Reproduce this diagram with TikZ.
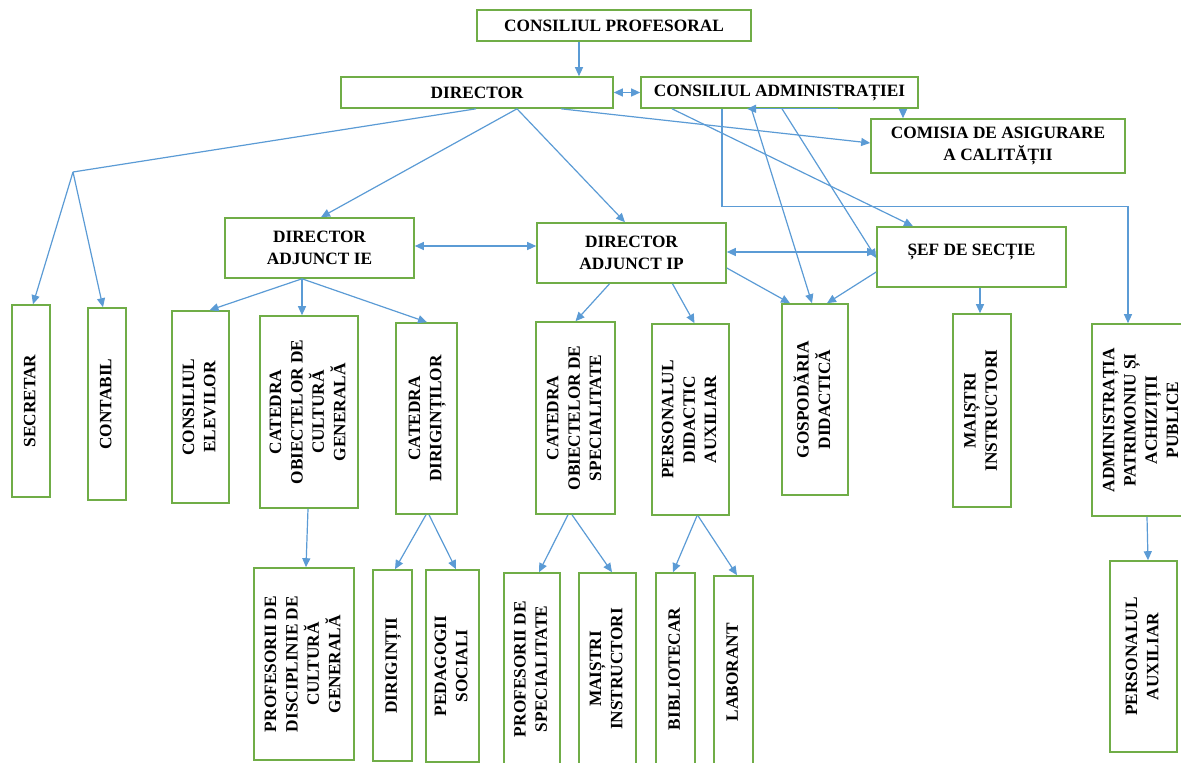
\documentclass[tikz,border=0pt]{standalone}
\usepackage{fontspec}
\setmainfont{Liberation Serif}
\usetikzlibrary{arrows.meta,calc}

\definecolor{boxgreen}{RGB}{112,173,71}
\definecolor{lineblue}{RGB}{91,155,213}
\newcommand{\vlabel}[1]{\rotatebox{90}{\begin{tabular}{@{}c@{}}#1\end{tabular}}}

\tikzset{
  box/.style={draw=boxgreen, line width=1.6pt, fill=white, align=center, inner sep=1pt,
    font=\fontsize{17.3}{21.3}\selectfont\bfseries},
  boxsize/.style 2 args={minimum width=#1, minimum height=#2},
  link/.style={draw=lineblue, line width=1.2pt},
  arr/.style={link, -{Triangle[length=9pt,width=8pt]}},
  darr/.style={link, {Triangle[length=9pt,width=8pt]}-{Triangle[length=9pt,width=8pt]}}
}

\begin{document}
\begin{tikzpicture}[x=1pt,y=-1pt]
\useasboundingbox (0,0) rectangle (1181,763);
\clip (0,0) rectangle (1181,763);

\node[box, boxsize={274}{31}] (prof) at (614,25.5) {CONSILIUL PROFESORAL};
\node[box, boxsize={272}{31}] (dir) at (477,92.5) {DIRECTOR};
\node[box, boxsize={277}{31}] (cadm) at (779.5,92.5) {CONSILIUL ADMINISTRAȚIEI};
\node[box, boxsize={254}{54}] (com) at (998,146) {COMISIA DE ASIGURARE\\A CALITĂȚII};
\node[box, boxsize={189}{60}] (dirie) at (319.5,248) {DIRECTOR\\ADJUNCT IE};
\node[box, boxsize={189}{60}] (dirip) at (631.5,253) {DIRECTOR\\ADJUNCT IP};
\node[box, boxsize={189}{60}] (sef) at (971.5,257) {ȘEF DE SECȚIE\\[-7pt] \mbox{}};

% second level
\node[box, boxsize={38}{192}] (secr) at (31,401) {\vlabel{SECRETAR}};
\node[box, boxsize={38}{192}] (cont) at (107,404) {\vlabel{CONTABIL}};
\node[box, boxsize={57}{192}] (cel) at (200.5,407) {\vlabel{CONSILIUL\\ELEVILOR}};
\node[box, boxsize={98}{192}] (cocg) at (309,412) {\vlabel{CATEDRA\\OBIECTELOR DE\\CULTURĂ\\GENERALĂ}};
\node[box, boxsize={61}{191}] (cdir) at (426.5,418.5) {\vlabel{CATEDRA\\DIRIGINȚILOR}};
\node[box, boxsize={79}{192}] (cspec) at (575.5,418) {\vlabel{CATEDRA\\OBIECTELOR DE\\SPECIALITATE}};
\node[box, boxsize={77}{191}] (pda) at (690.5,419.5) {\vlabel{PERSONALUL\\DIDACTIC\\AUXILIAR}};
\node[box, boxsize={66}{191}] (gosp) at (815,399.5) {\vlabel{GOSPODĂRIA\\DIDACTICĂ}};
\node[box, boxsize={58}{193}] (maia) at (982,410.5) {\vlabel{MAIȘTRI\\INSTRUCTORI}};
\node[box, boxsize={100}{192}] (adm) at (1142,420) {\vlabel{ADMINISTRAȚIA\\PATRIMONIU ȘI\\ACHIZIȚII\\PUBLICE}};

% third level
\node[box, boxsize={100}{192}] (pdisc) at (304,664) {\vlabel{PROFESORII DE\\DISCIPLINIE DE\\CULTURĂ\\GENERALĂ}};
\node[box, boxsize={39}{191}] (dirig) at (392.5,665.5) {\vlabel{DIRIGINȚII}};
\node[box, boxsize={53}{192}] (ped) at (452.5,666) {\vlabel{PEDAGOGII\\SOCIALI}};
\node[box, boxsize={56}{192}] (pspec) at (532,669) {\vlabel{PROFESORII DE\\SPECIALITATE}};
\node[box, boxsize={57}{192}] (maib) at (607.5,669) {\vlabel{MAIȘTRI\\INSTRUCTORI}};
\node[box, boxsize={39}{192}] (bib) at (675.5,669) {\vlabel{BIBLIOTECAR}};
\node[box, boxsize={39}{192}] (lab) at (733.5,672) {\vlabel{LABORANT}};
\node[box, boxsize={67}{191}] (paux) at (1143.5,656.5) {\vlabel{PERSONALUL\\AUXILIAR}};

\draw[arr] ($(prof.south)+(-35,0)$) -- ($(dir.north)+(102,0)$);
\draw[darr] (dir.east) -- (cadm.west);

\coordinate (split) at (73,172);
\draw[link] ($(dir.south)+(-1,0)$) -- (split);
\draw[arr] (split) -- ($(secr.north)+(2,0)$);
\draw[arr] (split) -- ($(cont.north)+(-4,0)$);
\draw[arr] ($(dir.south)+(40,0)$) -- ($(dirie.north)+(1.5,0)$);
\draw[arr] ($(dir.south)+(40,0)$) -- ($(dirip.north)+(-6.5,0)$);
\draw[arr] ($(dir.south)+(84,0)$) -- ($(com.west)+(0,-3)$);

\draw[arr] ($(cadm.south)+(123.5,0)$) -- ($(com.north)+(-95,0)$);
\draw[arr] ($(cadm.south)+(-107.5,0)$) -- ($(sef.north)+(-58.5,0)$);
\draw[arr] ($(cadm.south)+(2.5,0)$) -- ($(sef.west)+(0,1)$);
\draw[arr] ($(cadm.south)+(58.5,0)$) -- ($(cadm.south)+(-32.5,0)$);
\draw[arr] ($(cadm.south)+(-27.5,2)$) -- ($(gosp.north)+(-3,0)$);
\draw[arr] ($(cadm.south)+(-57.5,0)$) -- ++(0,98) -| ($(adm.north)+(-14,0)$);

\draw[darr] ($(dirie.east)+(0,-2)$) -- ($(dirip.west)+(0,-7)$);
\draw[darr] ($(dirip.east)+(0,-1)$) -- ($(sef.west)+(0,-5)$);
\draw[arr] ($(dirip.east)+(0,15)$) -- ($(gosp.north)+(-25,0)$);
\draw[arr] ($(sef.west)+(0,15)$) -- ($(gosp.north)+(12,0)$);
\draw[arr] ($(sef.south)+(8.5,0)$) -- ($(maia.north)+(-2,0)$);
\draw[arr] ($(dirip.south)+(-22,0)$) -- (cspec.north);
\draw[arr] ($(dirip.south)+(41,0)$) -- ($(pda.north)+(4,0)$);

\draw[arr] ($(dirie.south)+(-17.5,0)$) -- ($(cel.north)+(9,0)$);
\draw[arr] ($(dirie.south)+(-17.5,0)$) -- ($(cocg.north)+(-7,0)$);
\draw[arr] ($(dirie.south)+(-17.5,0)$) -- ($(cdir.north)+(0.5,0)$);

\draw[arr] ($(cocg.south)+(-1,0)$) -- ($(pdisc.north)+(2,0)$);
\draw[arr] ($(cdir.south)+(-0.5,0)$) -- ($(dirig.north)+(2.5,0)$);
\draw[arr] ($(cdir.south)+(2.5,0)$) -- ($(ped.north)+(3.5,0)$);
\draw[arr] ($(cspec.south)+(-7.5,0)$) -- ($(pspec.north)+(7,0)$);
\draw[arr] ($(cspec.south)+(-3.5,0)$) -- ($(maib.north)+(4.5,0)$);
\draw[arr] ($(pda.south)+(6.5,0)$) -- ($(bib.north)+(-2.5,0)$);
\draw[arr] ($(pda.south)+(7.5,0)$) -- ($(lab.north)+(3.5,0)$);
\draw[arr] ($(adm.south)+(5,0)$) -- ($(paux.north)+(4.5,0)$);
\end{tikzpicture}
\end{document}
